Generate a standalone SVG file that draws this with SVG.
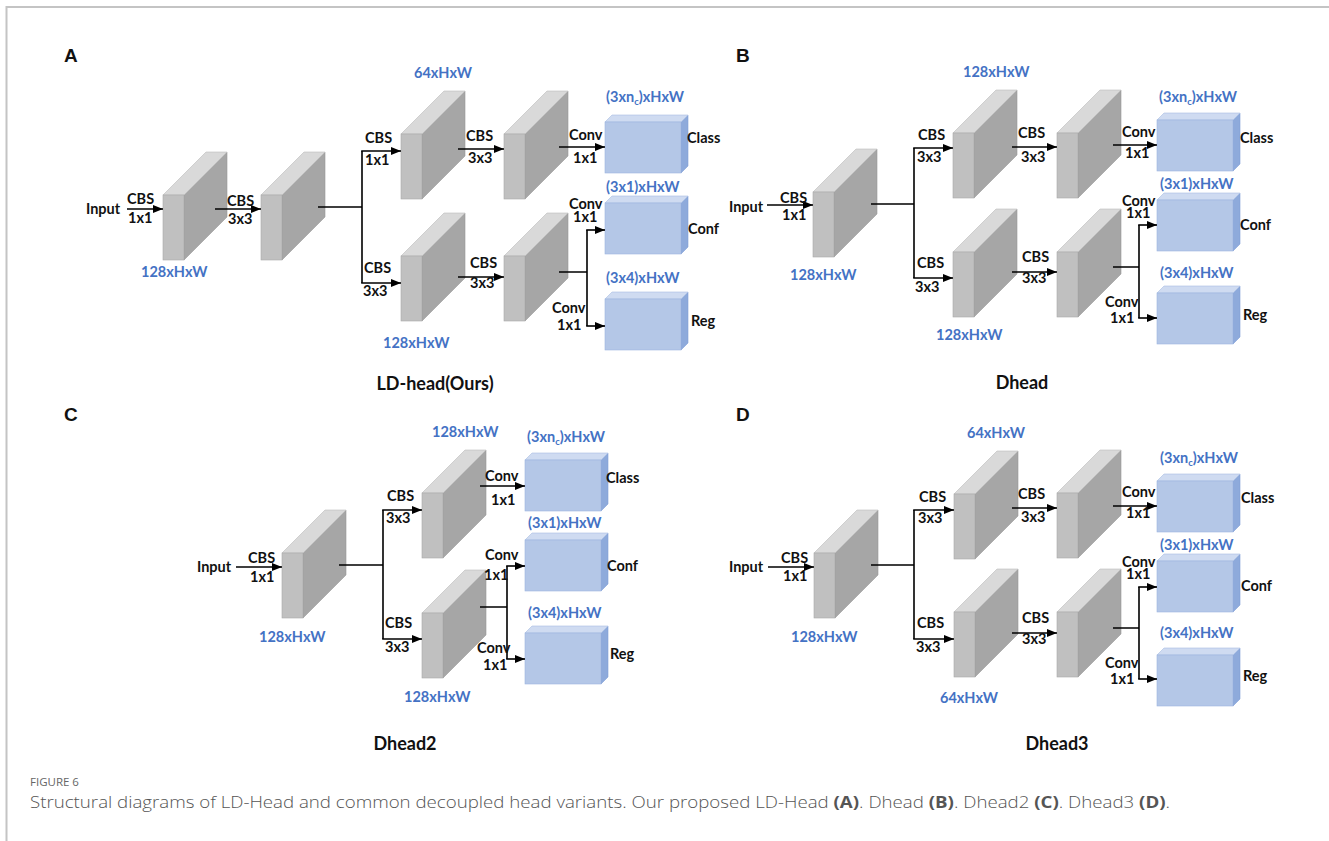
<svg xmlns="http://www.w3.org/2000/svg" xmlns:xlink="http://www.w3.org/1999/xlink" width="1329" height="841" viewBox="0 0 1329 841">
<style>
.t{font-family:Lato,"Liberation Sans",sans-serif;font-weight:700;font-size:14.5px;fill:#111}
.b{font-family:Lato,"Liberation Sans",sans-serif;font-weight:700;font-size:14.5px;fill:#4472c4}
.ttl{font-family:Lato,"Liberation Sans",sans-serif;font-weight:700;font-size:18px;fill:#111;text-anchor:middle}
.lab{font-family:"Liberation Sans",Arial,sans-serif;font-weight:700;font-size:19px;fill:#111}
.ln{fill:none;stroke:#000;stroke-width:1.6}
.ar{fill:none;stroke:#000;stroke-width:1.6;marker-end:url(#ah)}
.cap1{font-family:"Open Sans","Noto Sans",sans-serif;font-size:11.5px;fill:#666}
.cap2{font-family:"Open Sans","Noto Sans",sans-serif;font-weight:300;font-size:16px;fill:#555}
</style>
<defs>
<marker id="ah" markerUnits="userSpaceOnUse" markerWidth="10" markerHeight="8" refX="10" refY="4" orient="auto"><path d="M0,0 L10,4 L0,8 z" fill="#000"/></marker>
<g id="gray">
<polygon points="21,0 64,-43 64,22 21,65" fill="#a6a6a6" stroke="#989898" stroke-width="0.6"/>
<polygon points="0,0 43,-43 64,-43 21,0" fill="#d9d9d9" stroke="#bcbcbc" stroke-width="0.6"/>
<rect x="0" y="0" width="21" height="65" fill="#c0c0c0" stroke="#a8a8a8" stroke-width="0.6"/>
</g>
<g id="blue">
<polygon points="76,0 83,-7 83,44 76,51" fill="#8eaadb" stroke="#7f9ed6" stroke-width="0.6"/>
<polygon points="0,0 7,-7 83,-7 76,0" fill="#cfdbf1" stroke="#a9bde3" stroke-width="0.6"/>
<rect x="0" y="0" width="76" height="51" fill="#b4c7e7" stroke="#9db5df" stroke-width="0.6"/>
</g>
</defs>
<rect width="1329" height="841" fill="#fff"/>
<path d="M6.5,841 V7 H1329" fill="none" stroke="#c4c4c4" stroke-width="2"/>

<!-- Panel A -->
<g id="panelA">
<text class="lab" x="64" y="62">A</text>
<g id="A-b1"><use xlink:href="#gray" x="163" y="195"/></g>
<g id="A-b2"><use xlink:href="#gray" x="261" y="195"/></g>
<g id="A-b3"><use xlink:href="#gray" x="401" y="134"/></g>
<g id="A-b4"><use xlink:href="#gray" x="504" y="134"/></g>
<g id="A-b5"><use xlink:href="#gray" x="401" y="256"/></g>
<g id="A-b6"><use xlink:href="#gray" x="504" y="256"/></g>
<g id="A-class"><use xlink:href="#blue" x="605" y="122"/></g>
<g id="A-conf"><use xlink:href="#blue" x="605" y="203"/></g>
<g id="A-reg"><use xlink:href="#blue" x="605" y="299"/></g>
</g>
<!-- Panel B -->
<g id="panelB">
<text class="lab" x="736" y="62">B</text>
<g id="B-b1"><use xlink:href="#gray" x="813" y="192"/></g>
<g id="B-b2"><use xlink:href="#gray" x="953" y="133"/></g>
<g id="B-b3"><use xlink:href="#gray" x="953" y="252"/></g>
<g id="B-b4"><use xlink:href="#gray" x="1057" y="133"/></g>
<g id="B-b5"><use xlink:href="#gray" x="1057" y="252"/></g>
<g id="B-class"><use xlink:href="#blue" x="1157" y="120"/></g>
<g id="B-conf"><use xlink:href="#blue" x="1157" y="200"/></g>
<g id="B-reg"><use xlink:href="#blue" x="1157" y="293"/></g>
</g>
<!-- Panel C -->
<g id="panelC">
<text class="lab" x="64" y="421">C</text>
<g id="C-b1"><use xlink:href="#gray" x="282" y="553"/></g>
<g id="C-b2"><use xlink:href="#gray" x="422" y="493"/></g>
<g id="C-b3"><use xlink:href="#gray" x="422" y="613"/></g>
<g id="C-class"><use xlink:href="#blue" x="525" y="460"/></g>
<g id="C-conf"><use xlink:href="#blue" x="525" y="540"/></g>
<g id="C-reg"><use xlink:href="#blue" x="525" y="633"/></g>
</g>
<!-- Panel D -->
<g id="panelD">
<text class="lab" x="736" y="421">D</text>
<g id="D-b1"><use xlink:href="#gray" x="814" y="553"/></g>
<g id="D-b2"><use xlink:href="#gray" x="954" y="494"/></g>
<g id="D-b3"><use xlink:href="#gray" x="954" y="612"/></g>
<g id="D-b4"><use xlink:href="#gray" x="1057" y="493"/></g>
<g id="D-b5"><use xlink:href="#gray" x="1057" y="612"/></g>
<g id="D-class"><use xlink:href="#blue" x="1157" y="481"/></g>
<g id="D-conf"><use xlink:href="#blue" x="1157" y="561"/></g>
<g id="D-reg"><use xlink:href="#blue" x="1157" y="655"/></g>
</g>

<g id="connectors">
<!-- A -->
<path class="ar" d="M127,209 H163"/>
<path class="ar" d="M215,209 H261"/>
<path class="ln" d="M318,207 H362 M362,151 V283"/>
<path class="ar" d="M361.2,151 H401"/>
<path class="ar" d="M361.2,283 H401"/>
<path class="ar" d="M458,149 H504"/>
<path class="ar" d="M458,277 H504"/>
<path class="ar" d="M559,147 H605"/>
<path class="ln" d="M559,272 H587 M587,230 V326"/>
<path class="ar" d="M586.2,230 H605"/>
<path class="ar" d="M586.2,326 H605"/>
<!-- B -->
<path class="ar" d="M767,205 H813"/>
<path class="ln" d="M871,204 H914 M914,148 V278"/>
<path class="ar" d="M913.2,148 H953"/>
<path class="ar" d="M913.2,278 H953"/>
<path class="ar" d="M1012,147 H1057"/>
<path class="ar" d="M1012,272 H1057"/>
<path class="ar" d="M1113,145 H1157"/>
<path class="ln" d="M1113,267 H1139 M1139,225 V318"/>
<path class="ar" d="M1138.2,225 H1157"/>
<path class="ar" d="M1138.2,318 H1157"/>
<!-- C -->
<path class="ar" d="M236,567 H282"/>
<path class="ln" d="M339,565 H383 M383,510 V639"/>
<path class="ar" d="M382.2,510 H422"/>
<path class="ar" d="M382.2,639 H422"/>
<path class="ar" d="M480,486 H525"/>
<path class="ln" d="M480,607 H507 M507,566 V659"/>
<path class="ar" d="M506.2,566 H525"/>
<path class="ar" d="M506.2,659 H525"/>
<!-- D -->
<path class="ar" d="M768,567 H814"/>
<path class="ln" d="M871,565 H914 M914,510 V639"/>
<path class="ar" d="M913.2,510 H954"/>
<path class="ar" d="M913.2,639 H954"/>
<path class="ar" d="M1012,508 H1057"/>
<path class="ar" d="M1012,633 H1057"/>
<path class="ar" d="M1113,506 H1157"/>
<path class="ln" d="M1113,628 H1139 M1139,587 V679"/>
<path class="ar" d="M1138.2,587 H1157"/>
<path class="ar" d="M1138.2,679 H1157"/>
</g>

<g id="labels">
<!-- A -->
<text class="t" x="86" y="214">Input</text>
<text class="t" x="127" y="204">CBS</text>
<text class="t" x="128" y="223">1x1</text>
<text class="t" x="227" y="206">CBS</text>
<text class="t" x="228" y="224">3x3</text>
<text class="t" x="365" y="143">CBS</text>
<text class="t" x="365" y="165">1x1</text>
<text class="t" x="364" y="273">CBS</text>
<text class="t" x="363" y="296">3x3</text>
<text class="t" x="466" y="141">CBS</text>
<text class="t" x="468" y="163">3x3</text>
<text class="t" x="470" y="268">CBS</text>
<text class="t" x="470" y="288">3x3</text>
<text class="t" x="569" y="140">Conv</text>
<text class="t" x="573" y="163">1x1</text>
<text class="t" x="569" y="209">Conv</text>
<text class="t" x="573" y="222">1x1</text>
<text class="t" x="552" y="313">Conv</text>
<text class="t" x="557" y="330">1x1</text>
<text class="t" x="687" y="143">Class</text>
<text class="t" x="688" y="234">Conf</text>
<text class="t" x="691" y="326">Reg</text>
<text class="b" x="414" y="78">64xHxW</text>
<text class="b" x="606" y="102">(3xn<tspan font-size="9.5" dy="3">c</tspan><tspan dy="-3">)xHxW</tspan></text>
<text class="b" x="606" y="192">(3x1)xHxW</text>
<text class="b" x="606" y="283">(3x4)xHxW</text>
<text class="b" x="141" y="277">128xHxW</text>
<text class="b" x="383" y="348">128xHxW</text>
<text class="ttl" x="435" y="390">LD-head(Ours)</text>
<!-- B -->
<text class="t" x="729" y="212">Input</text>
<text class="t" x="780" y="203">CBS</text>
<text class="t" x="782" y="220">1x1</text>
<text class="t" x="918" y="140">CBS</text>
<text class="t" x="917" y="162">3x3</text>
<text class="t" x="917" y="268">CBS</text>
<text class="t" x="915" y="292">3x3</text>
<text class="t" x="1018" y="138">CBS</text>
<text class="t" x="1021" y="162">3x3</text>
<text class="t" x="1022" y="262">CBS</text>
<text class="t" x="1022" y="283">3x3</text>
<text class="t" x="1122" y="137">Conv</text>
<text class="t" x="1125" y="158">1x1</text>
<text class="t" x="1122" y="206">Conv</text>
<text class="t" x="1126" y="218">1x1</text>
<text class="t" x="1105" y="307">Conv</text>
<text class="t" x="1110" y="323">1x1</text>
<text class="t" x="1240" y="143">Class</text>
<text class="t" x="1240" y="230">Conf</text>
<text class="t" x="1243" y="320">Reg</text>
<text class="b" x="963" y="77">128xHxW</text>
<text class="b" x="790" y="280">128xHxW</text>
<text class="b" x="936" y="340">128xHxW</text>
<text class="b" x="1159" y="102">(3xn<tspan font-size="9.5" dy="3">c</tspan><tspan dy="-3">)xHxW</tspan></text>
<text class="b" x="1160" y="189">(3x1)xHxW</text>
<text class="b" x="1160" y="278">(3x4)xHxW</text>
<text class="ttl" x="1022" y="389">Dhead</text>
<!-- C -->
<text class="t" x="197" y="572">Input</text>
<text class="t" x="248" y="563">CBS</text>
<text class="t" x="250" y="582">1x1</text>
<text class="t" x="387" y="501">CBS</text>
<text class="t" x="386" y="523">3x3</text>
<text class="t" x="385" y="628">CBS</text>
<text class="t" x="385" y="652">3x3</text>
<text class="t" x="485" y="481">Conv</text>
<text class="t" x="491" y="505">1x1</text>
<text class="t" x="485" y="560">Conv</text>
<text class="t" x="484" y="580">1x1</text>
<text class="t" x="477" y="653">Conv</text>
<text class="t" x="483" y="670">1x1</text>
<text class="t" x="606" y="483">Class</text>
<text class="t" x="607" y="571">Conf</text>
<text class="t" x="610" y="659">Reg</text>
<text class="b" x="432" y="437">128xHxW</text>
<text class="b" x="259" y="642">128xHxW</text>
<text class="b" x="404" y="702">128xHxW</text>
<text class="b" x="527" y="442">(3xn<tspan font-size="9.5" dy="3">c</tspan><tspan dy="-3">)xHxW</tspan></text>
<text class="b" x="528" y="528">(3x1)xHxW</text>
<text class="b" x="528" y="618">(3x4)xHxW</text>
<text class="ttl" x="405" y="750">Dhead2</text>
<!-- D -->
<text class="t" x="729" y="572">Input</text>
<text class="t" x="781" y="563">CBS</text>
<text class="t" x="783" y="581">1x1</text>
<text class="t" x="919" y="502">CBS</text>
<text class="t" x="918" y="523">3x3</text>
<text class="t" x="917" y="628">CBS</text>
<text class="t" x="916" y="652">3x3</text>
<text class="t" x="1018" y="499">CBS</text>
<text class="t" x="1021" y="522">3x3</text>
<text class="t" x="1022" y="623">CBS</text>
<text class="t" x="1022" y="644">3x3</text>
<text class="t" x="1122" y="497">Conv</text>
<text class="t" x="1126" y="518">1x1</text>
<text class="t" x="1122" y="567">Conv</text>
<text class="t" x="1126" y="579">1x1</text>
<text class="t" x="1105" y="668">Conv</text>
<text class="t" x="1110" y="684">1x1</text>
<text class="t" x="1241" y="503">Class</text>
<text class="t" x="1241" y="591">Conf</text>
<text class="t" x="1243" y="681">Reg</text>
<text class="b" x="967" y="438">64xHxW</text>
<text class="b" x="791" y="642">128xHxW</text>
<text class="b" x="940" y="703">64xHxW</text>
<text class="b" x="1160" y="463">(3xn<tspan font-size="9.5" dy="3">c</tspan><tspan dy="-3">)xHxW</tspan></text>
<text class="b" x="1160" y="550">(3x1)xHxW</text>
<text class="b" x="1160" y="638">(3x4)xHxW</text>
<text class="ttl" x="1057" y="750">Dhead3</text>
</g>

<g id="caption">
<text class="cap1" x="30" y="786">FIGURE 6</text>
<text class="cap2" x="30" y="808" textLength="1140" lengthAdjust="spacingAndGlyphs">Structural diagrams of LD-Head and common decoupled head variants. Our proposed LD-Head <tspan font-weight="700">(A)</tspan>. Dhead <tspan font-weight="700">(B)</tspan>. Dhead2 <tspan font-weight="700">(C)</tspan>. Dhead3 <tspan font-weight="700">(D)</tspan>.</text>
</g>
</svg>
